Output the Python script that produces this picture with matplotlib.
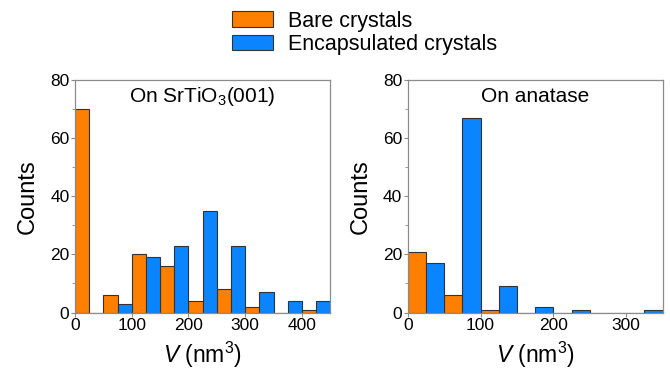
import matplotlib
matplotlib.use("Agg")
import matplotlib.pyplot as plt
from matplotlib.ticker import MultipleLocator
import numpy as np

plt.rcParams["font.family"] = ["Liberation Sans", "DejaVu Sans"]
plt.rcParams["mathtext.fontset"] = "custom"
plt.rcParams["mathtext.rm"] = "Liberation Sans"
plt.rcParams["mathtext.it"] = "Liberation Sans:italic"

# bin starts (nm^3), each 50 wide: bare in the left half, encapsulated in the right half
sto_bins = [0, 50, 100, 150, 200, 250, 300, 350, 400]
sto_bare = [70, 6, 20, 16, 4, 8, 2, 0, 1]
sto_encap = [0, 3, 19, 23, 35, 23, 7, 4, 4]

ana_bins = [0, 50, 100, 150, 200, 250, 300]
ana_bare = [21, 6, 1, 0, 0, 0, 0]
ana_encap = [17, 67, 9, 2, 1, 0, 1]

ORANGE = "#FF7F00"
BLUE = "#0A84FF"
EDGE = "#333333"
FRAME = "#8C8C8C"

fig = plt.figure(figsize=(6.7, 3.69), dpi=100)
ax1 = fig.add_axes([0.112, 0.153, 0.381, 0.630])
ax2 = fig.add_axes([0.6085, 0.153, 0.3805, 0.630])


def draw(ax, bins, bare, encap, xmax, xticks, title):
    bins = np.asarray(bins)
    ax.bar(bins, bare, width=25, align="edge", color=ORANGE,
           edgecolor=EDGE, linewidth=0.8, label="Bare crystals", zorder=2)
    ax.bar(bins + 25, encap, width=25, align="edge", color=BLUE,
           edgecolor=EDGE, linewidth=0.8, label="Encapsulated crystals", zorder=2)
    ax.set_xlim(0, xmax)
    ax.set_ylim(0, 80)
    ax.set_xticks(xticks)
    ax.set_yticks([0, 20, 40, 60, 80])
    ax.yaxis.set_minor_locator(MultipleLocator(10))
    ax.tick_params(axis="both", which="major", labelsize=12.5, length=3,
                   width=0.8, color=FRAME, pad=1)
    ax.tick_params(axis="y", which="minor", length=2, width=0.6, color=FRAME)
    for spine in ax.spines.values():
        spine.set_color(FRAME)
        spine.set_linewidth(0.9)
    ax.set_ylabel("Counts", fontsize=17, labelpad=8)
    ax.set_xlabel(r"$V$ (nm$^3$)", fontsize=16.5, labelpad=5)
    ax.text(0.5, 0.93, title, transform=ax.transAxes, ha="center", va="center",
            fontsize=15)


draw(ax1, sto_bins, sto_bare, sto_encap, 450, [0, 100, 200, 300, 400],
     r"On SrTiO$_3$(001)")
draw(ax2, ana_bins, ana_bare, ana_encap, 350, [0, 100, 200, 300],
     "On anatase")

handles, labels = ax1.get_legend_handles_labels()
fig.legend(handles, labels, loc="upper left", bbox_to_anchor=(0.337, 0.989),
           frameon=False, fontsize=15.5, handlelength=1.9, handleheight=0.7,
           handletextpad=0.7, labelspacing=0.1, borderpad=0.3, borderaxespad=0)

fig.savefig("out.png", dpi=100)
plt.close(fig)
